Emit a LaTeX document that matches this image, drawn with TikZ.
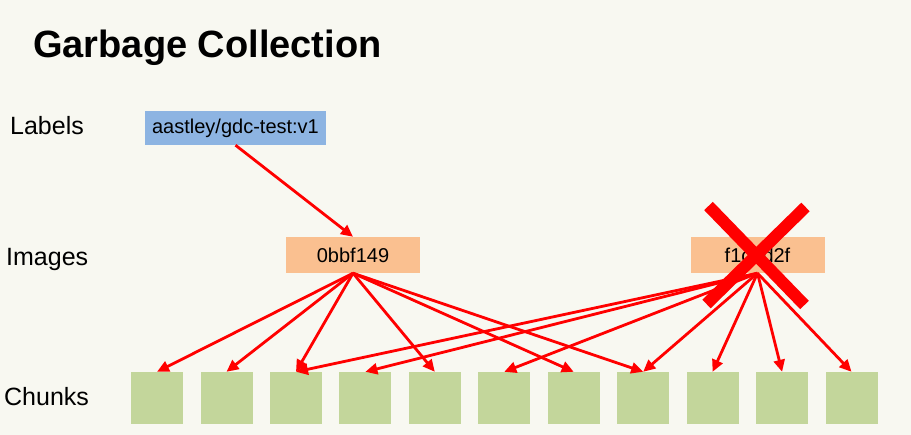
\documentclass[tikz,border=0pt]{standalone}
\usepackage{xcolor}
\usepackage{fontspec}
\setmainfont{Liberation Sans}
\usepackage{tikz}
\usetikzlibrary{arrows.meta}

\definecolor{bgcream}{HTML}{F8F8F1}
\definecolor{tagblue}{HTML}{8DB4E2}
\definecolor{imgpeach}{HTML}{FAC090}
\definecolor{chunkgreen}{HTML}{C3D69B}

\begin{document}
\begin{tikzpicture}[x=1pt, y=-1pt,
    rowname/.style={anchor=base west, inner sep=0pt, font=\fontsize{25}{29}\selectfont},
    tagbox/.style={fill=tagblue, minimum width=181pt, minimum height=34pt, inner sep=0pt, font=\fontsize{20}{24}\selectfont},
    imgbox/.style={fill=imgpeach, minimum width=134pt, minimum height=36pt, inner sep=0pt, font=\fontsize{20}{24}\selectfont},
    chunkbox/.style={fill=chunkgreen, minimum size=52pt, inner sep=0pt},
    link/.style={red, line width=2.8pt, -{Triangle[length=12pt,width=11pt]}}]
    % Background
    \fill[bgcream] (0,0) rectangle (911,435);

    % Title
    \node[anchor=base west, inner sep=0pt, font=\fontsize{38}{45}\selectfont\bfseries] (title) at (33,58) {Garbage Collection};

    % Row names
    \node[rowname] (rowlabels) at (10,135) {Labels};
    \node[rowname] (rowimages) at (6,266) {Images};
    \node[rowname] (rowchunks) at (4,406) {Chunks};

    % Labels
    \node[tagbox] (tag) at (235.5,128) {aastley/gdc-test:v1};

    % Images
    \node[imgbox] (img1) at (353,255) {0bbf149};
    \node[imgbox] (img2) at (757.5,255) {f1c4d2f};

    % Chunks
    \node[chunkbox] (c1) at (157,398) {};
    \node[chunkbox] (c2) at (226.5,398) {};
    \node[chunkbox] (c3) at (296,398) {};
    \node[chunkbox] (c4) at (365.4,398) {};
    \node[chunkbox] (c5) at (434.8,398) {};
    \node[chunkbox] (c6) at (504.3,398) {};
    \node[chunkbox] (c7) at (573.7,398) {};
    \node[chunkbox] (c8) at (643.2,398) {};
    \node[chunkbox] (c9) at (712.6,398) {};
    \node[chunkbox] (c10) at (782.1,398) {};
    \node[chunkbox] (c11) at (851.5,398) {};

    % Connections
    \draw[link] (tag.south) -- (img1.north);

    \draw[link] (img1.south) -- (c1.north);
    \draw[link] (img1.south) -- (c2.north);
    \draw[link] (img1.south) -- (c3.north);
    \draw[link] (img1.south) -- (c5.north);
    \draw[link] (img1.south) -- (c7.north);
    \draw[link] (img1.south) -- (c8.north);

    \draw[link] (img2.south) -- (c3.north);
    \draw[link] (img2.south) -- (c4.north);
    \draw[link] (img2.south) -- (c6.north);
    \draw[link] (img2.south) -- (c8.north);
    \draw[link] (img2.south) -- (c9.north);
    \draw[link] (img2.south) -- (c10.north);
    \draw[link] (img2.south) -- (c11.north);

    % Cross-out
    \draw[red, line width=12pt] ([shift={(-49,-49)}]img2.center) -- ([shift={(47,50)}]img2.center);
    \draw[red, line width=12pt] ([shift={(48,-48)}]img2.center) -- ([shift={(-51,49)}]img2.center);
\end{tikzpicture}
\end{document}
